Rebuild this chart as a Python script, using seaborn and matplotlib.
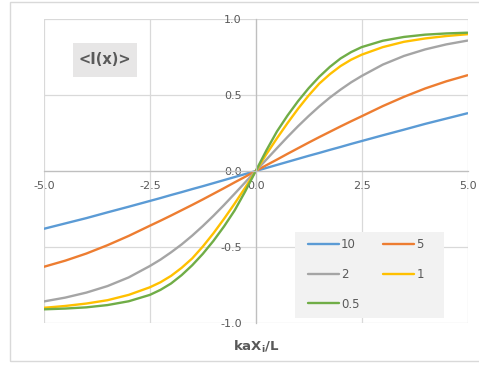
import matplotlib
matplotlib.use("Agg")
import matplotlib.pyplot as plt
from matplotlib.patches import Rectangle
import seaborn as sns
import pandas as pd

# ---- data ----
x_pos = [0.0, 0.25, 0.5, 0.75, 1.0, 1.25, 1.5, 1.75, 2.0, 2.25, 2.5, 3.0, 3.5, 4.0, 4.5, 5.0]
y_10  = [0.0, 0.020, 0.040, 0.060, 0.080, 0.100, 0.119, 0.139, 0.158, 0.178, 0.197, 0.235, 0.272, 0.310, 0.345, 0.380]
y_5   = [0.0, 0.038, 0.075, 0.113, 0.150, 0.187, 0.223, 0.258, 0.293, 0.327, 0.360, 0.427, 0.488, 0.543, 0.590, 0.630]
y_2   = [0.0, 0.075, 0.150, 0.224, 0.295, 0.362, 0.425, 0.483, 0.535, 0.583, 0.625, 0.700, 0.757, 0.800, 0.833, 0.858]
y_1   = [0.0, 0.110, 0.215, 0.315, 0.410, 0.497, 0.575, 0.637, 0.690, 0.732, 0.765, 0.815, 0.850, 0.872, 0.888, 0.900]
y_05  = [0.0, 0.135, 0.260, 0.365, 0.460, 0.545, 0.620, 0.685, 0.740, 0.782, 0.815, 0.857, 0.882, 0.897, 0.905, 0.910]
series_names = ["10", "5", "2", "1", "0.5"]
series_vals = [y_10, y_5, y_2, y_1, y_05]
colors = ["#5B9BD5", "#ED7D31", "#A5A5A5", "#FFC000", "#70AD47"]
xticks = [-5.0, -2.5, 0.0, 2.5, 5.0]
yticks = [-1.0, -0.5, 0.0, 0.5, 1.0]

rows = []
for name, vals in zip(series_names, series_vals):
    xs = [-v for v in x_pos[::-1]] + x_pos[1:]
    ys = [-v for v in vals[::-1]] + vals[1:]
    for xv, yv in zip(xs, ys):
        rows.append({"x": xv, "y": yv, "s": name})
df = pd.DataFrame(rows)

sns.set_theme(style="white")
plt.rcParams["font.family"] = ["DejaVu Sans"]
plt.rcParams["axes.unicode_minus"] = False

fig = plt.figure(figsize=(4.79, 3.65), dpi=100)
ax = fig.add_axes([44/479, 1-323/365, (467.5-44)/479, (323-19)/365])

sns.lineplot(data=df, x="x", y="y", hue="s", hue_order=series_names,
             palette=colors, linewidth=1.7, ax=ax, sort=False, legend=True)

ax.set_xlim(-5, 5)
ax.set_ylim(-1, 1)
ax.set_xticks(xticks)
ax.set_yticks(yticks)
ax.set_xticklabels([f"{t:.1f}" for t in xticks])
ax.set_yticklabels([f"{t:.1f}" for t in yticks])
ax.grid(True, color="#d9d9d9", linewidth=0.9)
ax.set_axisbelow(True)

for s in ["top", "right"]:
    ax.spines[s].set_visible(False)
ax.spines["left"].set_position(("data", 0))
ax.spines["bottom"].set_position(("data", 0))
for s in ["left", "bottom"]:
    ax.spines[s].set_color("#bfbfbf")
    ax.spines[s].set_linewidth(0.9)
ax.tick_params(axis="both", length=0, labelsize=8, labelcolor="#595959")
ax.tick_params(axis="x", pad=7)
ax.tick_params(axis="y", pad=10)
ax.set_xlabel("")
ax.set_ylabel("")

# x-axis title
fig.text(256/479, 1-347/365, r"kaX$_\mathregular{i}$/L", ha="center", va="center",
         fontsize=9.5, fontweight="bold", color="#595959")

# y-axis title box
ax.add_patch(Rectangle(((73-44)/423.5, (323-77)/304), 64/423.5, 34/304,
                       transform=ax.transAxes, facecolor="#e7e6e6", edgecolor="none", zorder=3))
ax.text((105-44)/423.5, (323-60)/304, "<I(x)>", transform=ax.transAxes, ha="center",
        va="center", fontsize=10.5, fontweight="bold", color="#595959", zorder=4)

# legend
handles, labels = ax.get_legend_handles_labels()
order = [0, 2, 4, 1, 3]
ax.add_patch(Rectangle(((295-44)/423.5, (323-318)/304), (444-295)/423.5, (318-232)/304,
                       transform=ax.transAxes, facecolor="#f2f2f2", edgecolor="none", zorder=3))
leg = ax.legend([handles[i] for i in order], [labels[i] for i in order], ncol=2,
                loc="upper left", bbox_to_anchor=((308-44)/423.5, (323-238)/304),
                borderaxespad=0, frameon=False, fontsize=8.5, handlelength=2.6,
                handletextpad=0.2, columnspacing=2.0, labelspacing=1.42, borderpad=0)
leg.set_zorder(4)
for t in leg.get_texts():
    t.set_color("#595959")

# chart border
fig.patches.append(Rectangle((9.5/479, 4/365), 1.2, 359/365, transform=fig.transFigure,
                             facecolor="none", edgecolor="#d9d9d9", linewidth=1))

fig.savefig("out.png", dpi=100)
